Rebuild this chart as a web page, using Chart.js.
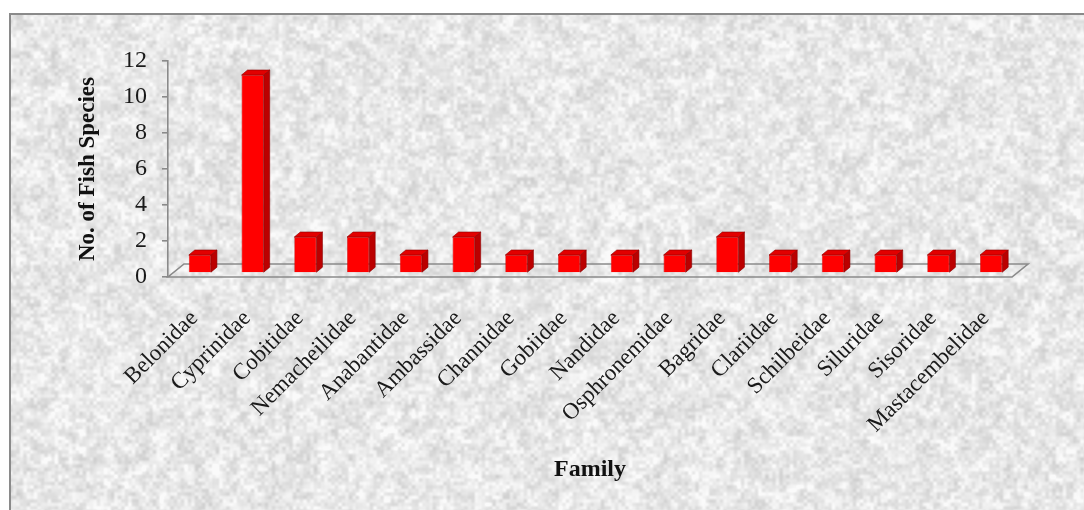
<!DOCTYPE html>
<html><head><meta charset="utf-8">
<script src="https://cdn.jsdelivr.net/npm/chart.js@4.4.1/dist/chart.umd.min.js"></script>
<style>html,body{margin:0;padding:0;background:#fff;overflow:hidden}#wrap{width:1084px;height:510px;position:relative}</style>
</head><body><div id="wrap"><canvas id="c" width="1084" height="510"></canvas></div>
<script>
const categories = ['Belonidae','Cyprinidae','Cobitidae','Nemacheilidae','Anabantidae','Ambassidae','Channidae','Gobiidae','Nandidae','Osphronemidae','Bagridae','Clariidae','Schilbeidae','Siluridae','Sisoridae','Mastacembelidae'];
const speciesCounts = [1,11,2,2,1,2,1,1,1,1,2,1,1,1,1,1];
const yTickValues = [0,2,4,6,8,10,12];
const yAxisTitle = 'No. of Fish Species';
const xAxisTitle = 'Family';

const SERIF = '"Liberation Serif","Times New Roman",serif';
const FLOOR_DX = 16, FLOOR_DY = -13;
const BAR_SHIFT_X = 5.5, BAR_SHIFT_Y = -4;
const DEPTH_DX = 6, DEPTH_DY = -5;

function makeTexture(w, h) {
  const c = document.createElement('canvas'); c.width = w; c.height = h;
  const g = c.getContext('2d'); const img = g.createImageData(w, h);
  let s = 987654;
  const rnd = () => { s = (s * 1103515245 + 12345) & 0x7fffffff; return s / 0x7fffffff; };
  function octave(cell) {
    const gw = Math.ceil(w / cell) + 2, gh = Math.ceil(h / cell) + 2;
    const grid = new Float32Array(gw * gh);
    for (let i = 0; i < grid.length; i++) grid[i] = rnd();
    return (x, y) => {
      const fx = x / cell, fy = y / cell;
      const ix = Math.floor(fx), iy = Math.floor(fy);
      const tx = fx - ix, ty = fy - iy;
      const sx = tx * tx * (3 - 2 * tx), sy = ty * ty * (3 - 2 * ty);
      const a = grid[iy * gw + ix], b = grid[iy * gw + ix + 1];
      const c2 = grid[(iy + 1) * gw + ix], d = grid[(iy + 1) * gw + ix + 1];
      return (a * (1 - sx) + b * sx) * (1 - sy) + (c2 * (1 - sx) + d * sx) * sy;
    };
  }
  const big = octave(9), small = octave(3.5);
  for (let y = 0; y < h; y++) {
    for (let x = 0; x < w; x++) {
      let val = 232 + (big(x, y) - 0.5) * 26 + (small(x, y) - 0.5) * 30;
      val = Math.max(195, Math.min(250, val));
      const p = (y * w + x) * 4;
      img.data[p] = val; img.data[p + 1] = val; img.data[p + 2] = val; img.data[p + 3] = 255;
    }
  }
  g.putImageData(img, 0, 0);
  return c;
}
const texture = makeTexture(1084, 510);

const backgroundPlugin = {
  id: 'bg',
  beforeDraw(chart) {
    const ctx = chart.ctx;
    ctx.save();
    ctx.fillStyle = '#ffffff';
    ctx.fillRect(0, 0, chart.width, chart.height);
    ctx.drawImage(texture, 10, 14, chart.width - 10, chart.height - 14, 10, 14, chart.width - 10, chart.height - 14);
    ctx.strokeStyle = '#8a8a8a';
    ctx.lineWidth = 2;
    ctx.strokeRect(10, 14, chart.width + 20, chart.height + 20);
    ctx.restore();
  }
};

const floorPlugin = {
  id: 'floor',
  beforeDatasetsDraw(chart) {
    const ctx = chart.ctx;
    const xs = chart.scales.x, ys = chart.scales.y;
    const y0 = ys.getPixelForValue(0);
    const l = xs.left, r = xs.right;
    ctx.save();
    ctx.strokeStyle = '#8a8a8a';
    ctx.lineWidth = 1.6;
    ctx.beginPath();
    ctx.moveTo(l, y0); ctx.lineTo(r, y0);
    ctx.lineTo(r + FLOOR_DX, y0 + FLOOR_DY);
    ctx.lineTo(l + FLOOR_DX, y0 + FLOOR_DY);
    ctx.closePath();
    ctx.stroke();
    ctx.restore();
  },
  beforeDatasetDraw(chart) {
    chart.ctx.save();
    chart.ctx.translate(BAR_SHIFT_X, BAR_SHIFT_Y);
  },
  afterDatasetDraw(chart, args) {
    const ctx = chart.ctx;
    const meta = chart.getDatasetMeta(args.index);
    meta.data.forEach(bar => {
      const p = bar.getProps(['x', 'y', 'base', 'width'], true);
      const x1 = p.x - p.width / 2, x2 = p.x + p.width / 2;
      const top = p.y, base = p.base;
      ctx.beginPath();
      ctx.moveTo(x2, base); ctx.lineTo(x2 + DEPTH_DX, base + DEPTH_DY);
      ctx.lineTo(x2 + DEPTH_DX, top + DEPTH_DY); ctx.lineTo(x2, top); ctx.closePath();
      ctx.fillStyle = '#bb0000'; ctx.fill();
      ctx.strokeStyle = '#8a0000'; ctx.lineWidth = 0.6; ctx.stroke();
      ctx.beginPath();
      ctx.moveTo(x1, top); ctx.lineTo(x1 + DEPTH_DX, top + DEPTH_DY);
      ctx.lineTo(x2 + DEPTH_DX, top + DEPTH_DY); ctx.lineTo(x2, top); ctx.closePath();
      ctx.fillStyle = '#e20000'; ctx.fill();
      ctx.stroke();
    });
    ctx.restore();
  }
};

new Chart(document.getElementById('c'), {
  type: 'bar',
  data: {
    labels: categories,
    datasets: [{
      data: speciesCounts,
      backgroundColor: '#ff0000',
      borderColor: '#c00000',
      borderWidth: 0.6,
      barPercentage: 0.42,
      categoryPercentage: 1.0
    }]
  },
  options: {
    responsive: false,
    animation: false,
    devicePixelRatio: 1,
    layout: { padding: { left: 70, right: 72, top: 61, bottom: 20 } },
    plugins: { legend: { display: false }, tooltip: { enabled: false } },
    scales: {
      x: {
        grid: { display: false },
        border: { display: false },
        ticks: {
          color: '#1a1a1a', font: { family: SERIF, size: 23 },
          maxRotation: 45, minRotation: 45, autoSkip: false, padding: 20
        },
        title: { display: true, text: xAxisTitle, color: '#111', font: { family: SERIF, size: 24, weight: 'bold' }, padding: { top: 0, bottom: 6 } },
        afterFit(scale) { scale.height = 213; }
      },
      y: {
        min: 0, max: 12,
        afterBuildTicks(scale) { scale.ticks = yTickValues.map(v => ({ value: v })); },
        grid: { display: true, drawOnChartArea: false, drawTicks: true, tickLength: 6, color: '#8a8a8a', lineWidth: 1.6 },
        border: { display: true, color: '#8a8a8a', width: 1.6 },
        ticks: { color: '#1a1a1a', font: { family: SERIF, size: 24 }, padding: 15 },
        title: { display: true, text: yAxisTitle, color: '#111', font: { family: SERIF, size: 23, weight: 'bold' }, padding: { top: 4, bottom: 0 } },
        afterFit(scale) { scale.width = 98; }
      }
    }
  },
  plugins: [backgroundPlugin, floorPlugin]
});
</script>
</body></html>
